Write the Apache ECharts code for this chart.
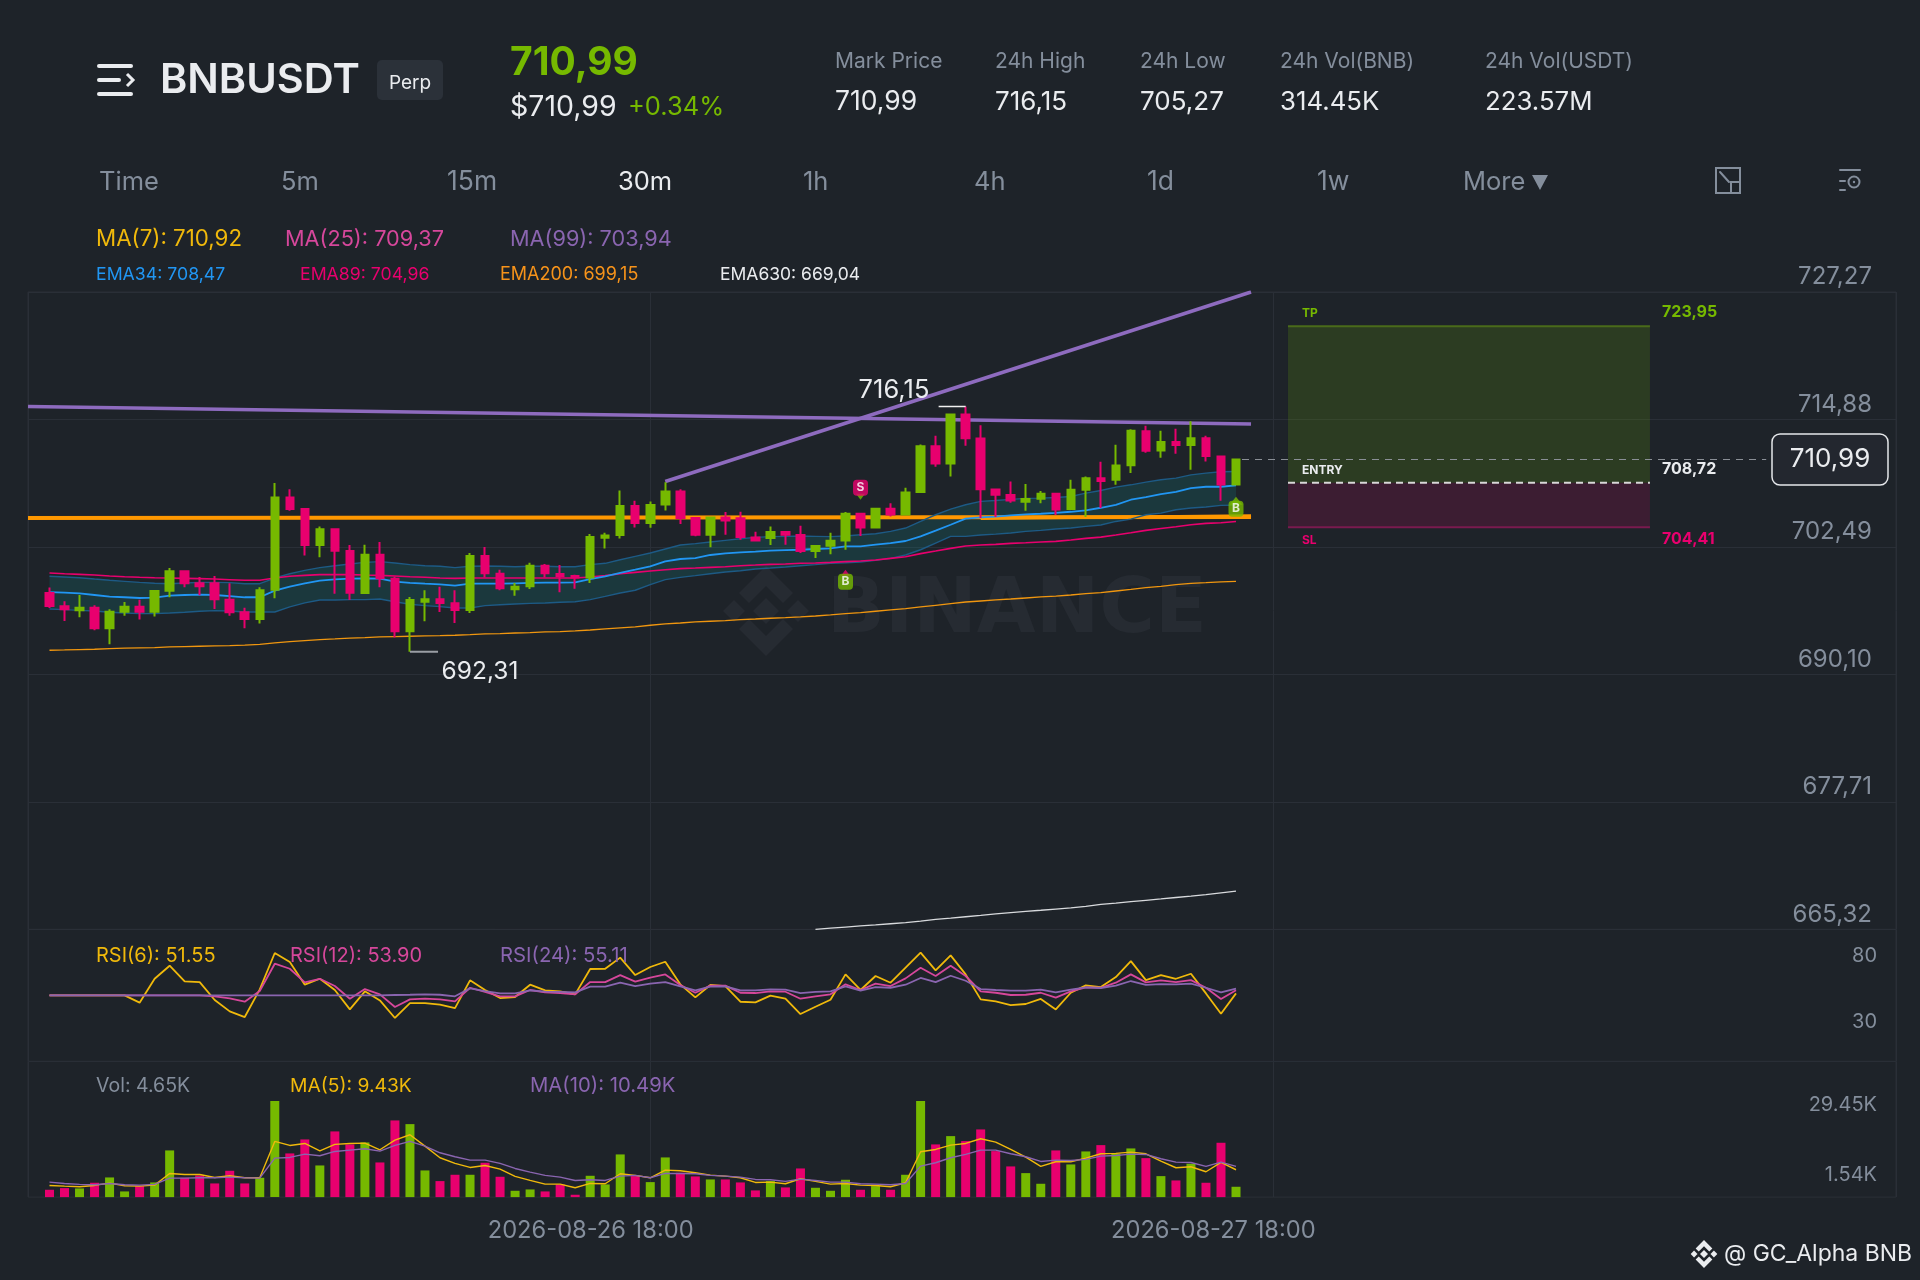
<!DOCTYPE html>
<html><head><meta charset="utf-8">
<style>html,body{margin:0;padding:0;background:#1e2329}#c{width:1920px;height:1280px}</style>
<script src="https://cdn.jsdelivr.net/npm/echarts@6/dist/echarts.min.js"></script>
</head><body><div id="c"></div>
<script>
// [open, close, low, high]
const candles=[[698.02,696.75,696.56,698.54],[696.72,696.43,695.30,697.21],[696.33,696.59,695.65,697.82],[696.59,694.59,694.39,696.82],[694.59,696.20,693.03,696.43],[696.20,696.69,695.81,697.14],[696.69,696.20,695.43,697.37],[696.20,698.21,695.72,698.21],[698.24,700.12,697.60,700.44],[700.12,698.96,698.57,700.12],
[698.96,698.66,697.79,699.57],[698.96,697.40,696.46,699.67],[697.37,696.14,695.81,698.96],[696.14,695.49,694.59,696.59],[695.49,698.28,695.04,698.57],[698.34,707.30,697.50,708.70],[707.30,706.17,706.01,708.11],[706.17,702.68,701.67,706.17],[702.68,704.20,701.48,704.49],[704.20,702.13,697.95,704.20],
[702.09,698.05,697.34,702.68],[698.02,701.74,698.02,702.71],[701.74,699.44,698.57,702.97],[699.41,694.29,693.68,699.63],[694.29,697.34,692.31,697.63],[697.17,697.40,695.27,698.28],[697.40,697.05,696.17,698.63],[697.01,696.37,695.10,698.28],[696.37,701.61,696.07,701.90],[701.61,699.93,699.53,702.48],
[699.89,698.47,698.28,700.28],[698.37,698.63,697.76,698.99],[698.66,700.67,698.40,700.96],[700.67,699.93,699.53,700.83],[699.86,699.64,698.08,700.73],[699.67,699.53,698.44,699.80],[699.53,703.45,698.99,703.74],[703.39,703.61,702.35,703.87],[703.65,706.46,703.32,707.98],[706.46,704.81,704.39,706.98],
[704.81,706.56,704.36,706.92],[706.62,707.89,706.04,708.79],[707.89,705.30,704.72,708.11],[705.30,703.68,703.52,705.30],[703.68,705.36,702.45,705.36],[705.36,705.07,703.68,705.88],[705.27,703.45,703.19,705.91],[703.42,703.13,703.10,703.97],[703.36,703.94,702.68,704.49],[703.94,703.68,702.71,704.00],
[703.65,702.09,701.90,704.55],[702.09,702.58,701.41,702.58],[702.61,703.10,701.77,703.87],[703.13,705.72,702.22,705.88],[705.72,704.39,703.55,705.72],[704.39,706.20,704.39,706.27],[706.20,705.65,705.46,706.75],[705.65,707.79,705.65,708.24],[707.82,712.29,707.82,712.45],[712.29,710.60,710.28,713.29],
[710.60,715.36,709.34,715.36],[715.36,713.06,712.32,716.15],[713.03,708.11,705.30,714.33],[708.08,707.56,705.40,708.08],[707.53,707.01,706.79,708.86],[706.88,707.14,706.01,708.60],[707.17,707.66,706.75,707.92],[707.66,706.14,705.59,707.72],[706.17,708.05,706.11,709.02],[708.05,709.18,705.40,709.34],
[709.18,708.89,706.27,710.77],[709.02,710.41,708.53,712.42],[710.44,713.78,709.67,713.94],[713.74,711.84,711.64,714.26],[711.87,712.68,711.15,713.78],[712.68,712.39,711.54,713.97],[712.39,713.06,709.99,714.71],[713.06,711.32,710.80,713.29],[711.28,708.57,706.98,711.32],[708.57,710.99,708.57,710.99]];
const ema34=[698.11,698.05,697.98,697.82,697.66,697.60,697.53,697.56,697.76,697.82,697.85,697.82,697.72,697.60,697.60,698.24,698.63,698.96,699.21,699.34,699.41,699.44,699.41,699.12,698.99,698.92,698.86,698.73,698.92,698.92,698.92,698.96,698.99,699.02,699.02,699.05,699.37,699.64,699.96,700.28,700.61,701.09,701.32,701.41,701.71,701.87,701.96,702.03,702.13,702.19,702.22,702.29,702.35,702.55,702.55,702.71,702.87,703.07,703.52,704.07,704.65,705.24,705.36,705.43,705.56,705.65,705.72,705.81,705.91,706.04,706.30,706.59,707.08,707.33,707.63,707.85,708.21,708.34,708.34,708.47];
const ema89=[699.96,699.89,699.83,699.76,699.67,699.60,699.54,699.50,699.47,699.44,699.41,699.37,699.31,699.25,699.25,699.47,699.64,699.73,699.80,699.80,699.80,699.76,699.73,699.67,699.60,699.54,699.47,699.44,699.47,699.47,699.47,699.47,699.47,699.47,699.47,699.47,699.57,699.70,699.89,700.02,700.15,700.28,700.38,700.44,700.51,700.57,700.67,700.73,700.80,700.83,700.90,700.93,700.99,701.06,701.12,701.22,701.38,701.54,701.84,702.09,702.35,702.58,702.68,702.74,702.84,702.90,702.97,703.03,703.16,703.32,703.45,703.65,703.87,704.10,704.29,704.46,704.65,704.78,704.84,704.96];
const ema200=[692.45,692.48,692.52,692.55,692.61,692.65,692.68,692.71,692.77,692.81,692.84,692.87,692.90,692.94,693.03,693.16,693.29,693.39,693.49,693.55,693.62,693.68,693.75,693.78,693.81,693.84,693.87,693.91,693.97,694.04,694.07,694.13,694.17,694.23,694.26,694.33,694.42,694.52,694.62,694.72,694.88,695.01,695.10,695.20,695.27,695.33,695.43,695.49,695.56,695.62,695.69,695.78,695.88,696.01,696.11,696.24,696.37,696.50,696.66,696.82,696.98,697.14,697.24,697.34,697.43,697.53,697.63,697.72,697.82,697.95,698.05,698.21,698.37,698.54,698.66,698.83,698.96,699.02,699.09,699.15];
const ema630Start=51;
const ema630=[665.33,665.44,665.55,665.66,665.76,665.87,665.98,666.12,666.30,666.42,666.55,666.68,666.82,666.95,667.07,667.18,667.30,667.42,667.55,667.76,667.88,668.02,668.15,668.28,668.42,668.55,668.70,668.88,669.04];
const bandUpper=[699.64,699.57,699.50,699.37,699.25,699.15,699.05,698.96,698.92,698.99,699.05,699.05,699.02,698.92,698.92,699.47,699.89,700.22,700.48,700.67,700.83,700.99,701.06,700.93,700.77,700.67,700.61,700.48,700.61,700.64,700.61,700.57,700.61,700.61,700.57,700.57,700.77,700.90,701.25,701.58,701.90,702.29,702.68,702.81,702.97,703.13,703.29,703.42,703.49,703.52,703.55,703.52,703.49,703.55,703.68,703.78,704.00,704.33,704.97,705.62,706.17,706.59,706.92,707.01,707.11,707.21,707.24,707.30,707.40,707.72,707.98,708.31,708.53,708.79,709.02,709.18,709.50,709.67,709.80,709.83];
const bandLower=[696.46,696.40,696.33,696.27,696.14,696.07,696.01,696.01,696.07,696.14,696.24,696.30,696.27,696.17,696.17,696.17,696.66,697.05,697.34,697.34,697.37,697.37,697.43,697.17,696.92,696.79,696.69,696.56,696.56,696.79,696.88,696.95,697.01,697.05,697.11,697.17,697.37,697.69,698.02,698.28,698.83,699.31,699.53,699.70,699.89,700.05,700.18,700.35,700.44,700.54,700.67,700.77,700.90,700.96,701.03,701.19,701.38,701.71,702.22,702.87,703.52,703.52,703.65,703.74,703.84,704.00,704.10,704.23,704.33,704.49,704.62,704.97,705.20,705.62,705.78,706.11,706.27,706.37,706.53,706.56];
const rsi6=[50,50,50,50,50,50,44.5,62.6,72.5,60.6,60.1,46.5,37.9,33.6,54.6,82.1,75.3,58.1,62.6,54.1,39.4,53.1,46.2,32.9,44.2,44.2,43.0,40.4,61.4,54.1,48.0,48.8,58.1,53.8,53.1,50.8,70.0,70.2,78.6,65.4,71.5,75.5,58.4,48.5,57.9,57.1,45.2,44.7,49.8,47.5,35.9,41.4,46.7,65.9,54.1,64.7,59.6,71.0,82.4,69.0,80.3,65.9,47.0,45.5,42.7,43.5,47.3,39.4,52.0,57.6,56.3,63.9,76.0,61.6,65.4,62.6,66.4,51.5,36.1,51.55];
const rsi12=[50,50,50,50,50,50,50,50,50,50,50,49.3,47.8,45.2,53.3,74.0,70.2,59.9,62.6,57.1,47.5,54.8,50.8,41.2,47.0,47.5,47.0,45.5,55.8,52.6,49.3,49.3,54.1,52.3,51.8,50.8,60.1,60.1,65.4,60.4,63.4,65.9,57.9,52.0,57.4,57.4,52.0,51.8,53.1,52.8,47.5,49.3,50.8,58.4,54.1,58.9,57.1,62.9,71.0,64.7,72.5,64.7,53.1,52.0,50.3,50.5,52.0,48.3,53.1,56.1,55.8,59.6,65.9,59.9,61.4,60.1,61.6,55.8,47.3,53.9];
const rsi24=[50,50,50,50,50,50,50,50,50,50,50,50,50,50,50,50,50,50,50,50,50,50,50,50.3,50.5,50.8,50.5,49.3,55.3,53.3,51.5,51.5,53.8,52.8,52.6,52.3,56.6,56.6,59.6,57.1,58.9,60.1,56.8,53.8,56.6,56.8,53.8,53.8,54.6,54.3,51.8,52.6,53.1,56.8,53.6,56.3,55.8,58.1,63.2,60.1,64.9,61.1,54.8,54.1,53.6,53.6,54.3,52.3,54.3,56.1,55.6,57.4,60.9,57.9,58.6,58.4,58.9,55.8,52.3,55.11];
const volume=[2.25,2.76,2.66,4.40,6.03,1.74,3.37,4.50,14.32,5.93,6.65,4.19,8.08,4.19,5.93,29.45,13.40,17.69,9.71,20.15,16.16,16.77,10.63,23.52,22.39,8.18,4.91,6.85,6.85,10.53,6.24,1.94,2.35,1.74,3.89,0.72,6.54,3.89,13.09,6.44,4.60,12.17,7.46,6.34,5.42,5.42,4.50,2.05,4.91,2.97,8.79,2.86,1.94,5.32,2.25,3.37,2.25,6.85,29.45,16.16,18.71,17.18,20.76,14.11,9.41,7.36,4.09,14.32,10.02,14.01,15.95,13.29,14.93,11.96,6.44,5.11,10.23,4.40,16.67,3.17];
const volMa5=[3.58,3.37,3.17,3.58,4.29,3.48,3.37,3.68,7.26,6.95,6.95,6.03,6.54,5.93,5.93,17.08,15.85,16.46,14.21,16.16,16.46,16.57,14.52,17.49,19.12,15.65,12.07,10.33,9.10,9.71,8.59,6.34,5.11,3.99,3.99,2.86,4.19,4.09,7.16,6.65,5.93,8.28,8.08,7.46,6.75,6.44,5.93,4.50,4.60,4.09,5.62,4.81,3.99,4.19,3.68,3.58,3.17,4.40,13.91,14.62,15.95,16.46,17.90,16.87,14.62,12.27,9.41,10.84,10.84,11.96,13.29,13.40,13.81,13.29,11.04,9.00,9.31,7.77,10.63,8.39];
const volMa10=[4.60,4.19,3.89,3.78,4.19,3.78,3.68,3.89,5.83,5.83,5.93,5.93,6.14,5.93,5.83,11.96,12.17,13.19,12.68,14.01,14.42,14.83,14.11,15.85,17.08,15.65,13.60,12.37,11.35,11.35,10.33,8.79,7.67,6.65,6.14,5.11,5.32,5.11,6.44,6.65,5.93,7.26,7.26,7.16,6.65,6.44,6.14,5.42,5.32,4.81,5.52,5.11,4.60,4.60,4.09,3.99,3.78,4.19,9.51,10.53,12.07,13.09,14.42,14.42,13.29,12.37,10.94,11.35,11.25,11.56,12.58,12.78,13.19,13.09,11.76,10.74,10.63,9.41,10.74,9.41];
// trend lines: [candle index, price]
const trendFlat=[[-1.43,716.13],[80,714.43]];
const trendRise=[[41,708.85],[80,727.27]];
const supportLine=[[-1.43,705.30],[80,705.40]];
const supportLine2=[[62,705.26],[80,705.52]];
const highMark=[[59.2,716.15],[61,716.15]];
const lowMark=[[24,692.31],[25.87,692.31]];
const lastPrice=710.99, lastFrom=79.4, lastTo=114.3;
const tp=723.95, entry=708.72, sl=704.41, zoneFrom=82.46, zoneTo=106.56;
const dateLabels=['2026-08-26 18:00','2026-08-27 18:00'];
const rsiTicks=[30,80];
const volTicks=[1.54,29.45];
const priceMin=665.32, priceMax=727.27, priceStep=12.39;
const xMin=-1.431, xMax=122.943, xStep=41.458;

const UP='#76b900',DN='#e8006e',GRID='#2a2f37',GREY='#848e9c',WHITE='#eaecef',YEL='#f0b90b',PNK='#d6479b',PUR='#8a65b0';
const FONT='Inter,"DejaVu Sans",sans-serif';
const idx=a=>a.map((v,i)=>[i,v]);
const X=(i,extra)=>Object.assign({type:'value',gridIndex:i,min:xMin,max:xMax,interval:xStep,axisLine:{show:false},axisTick:{show:false},axisLabel:{show:false},splitLine:{show:true,lineStyle:{color:GRID}}},extra||{});
const Y=(i,extra)=>Object.assign({type:'value',gridIndex:i,position:'right',axisLine:{show:false},axisTick:{show:false},splitLine:{show:false}},extra);
const line=(name,data,color,width,x,extra)=>Object.assign({name,type:'line',data,xAxisIndex:x,yAxisIndex:x,showSymbol:false,symbol:'none',smooth:false,silent:true,lineStyle:{color,width},z:3},extra||{});
const grid=(top,height)=>({left:28,top,width:1868,height,show:true,backgroundColor:'transparent',borderColor:GRID,borderWidth:1});

const t=(x,y,text,fill,size,weight,align)=>({type:'text',x,y,z:100,style:{text,fill,font:(weight||400)+' '+size+'px '+FONT,align:align||'left',verticalAlign:'middle'}});
const poly=(cx,cy,s,pts,fill,z)=>({type:'polygon',z:z,shape:{points:pts.map(p=>[cx+p[0]*s,cy+p[1]*s])},style:{fill}});
const logo=(cx,cy,s,fill,z)=>[
 [[0,-45],[27,-18],[17,-8],[0,-25],[-17,-8],[-27,-18]],[[0,45],[27,18],[17,8],[0,25],[-17,8],[-27,18]],
 [[0,-13],[13,0],[0,13],[-13,0]],[[-32,-11],[-21,0],[-32,11],[-43,0]],[[32,-11],[43,0],[32,11],[21,0]]
].map(p=>poly(cx,cy,s,p,fill,z));
const ln=(x1,y1,x2,y2,c,w)=>({type:'line',z:100,shape:{x1,y1,x2,y2},style:{stroke:c,lineWidth:w,lineCap:'round'}});

const graphics=[
 ...logo(766,611,1,'#262b32',1),
 {type:'text',x:827,y:612,z:1,style:{text:'BINANCE',fill:'#262b32',font:'700 76px "DejaVu Sans",'+FONT,align:'left',verticalAlign:'middle'}},
 ln(99,66,131,66,WHITE,4),ln(99,80,119,80,WHITE,4),ln(99,94,131,94,WHITE,4),
 {type:'polyline',z:100,shape:{points:[[127,74],[133,80],[127,86]]},style:{stroke:WHITE,lineWidth:3,fill:'none'}},
 t(160,81,'BNBUSDT',WHITE,41.5,600),
 {type:'rect',z:99,shape:{x:377,y:60,width:66,height:40,r:5},style:{fill:'#2b3139'}},
 t(410,83,'Perp',WHITE,19,400,'center'),
 t(510,63,'710,99',UP,39,700),t(510,107,'$710,99',WHITE,28.5),t(628,107,'+0.34%',UP,25.5),
 t(835,62,'Mark Price',GREY,21),t(835,102,'710,99',WHITE,26.5),
 t(995,62,'24h High',GREY,21),t(995,102,'716,15',WHITE,26),
 t(1140,62,'24h Low',GREY,21),t(1140,102,'705,27',WHITE,26),
 t(1280,62,'24h Vol(BNB)',GREY,21),t(1280,102,'314.45K',WHITE,25.8),
 t(1485,62,'24h Vol(USDT)',GREY,21),t(1485,102,'223.57M',WHITE,25.8),
 t(99,182,'Time',GREY,25.5),t(281,182,'5m',GREY,25.5),t(447,182,'15m',GREY,26.5),t(618,182,'30m',WHITE,25.5),t(803,182,'1h',GREY,25.5),t(974,182,'4h',GREY,25.5),t(1147,182,'1d',GREY,26.5),t(1317,182,'1w',GREY,26.5),t(1463,182,'More',GREY,25.5),
 {type:'polygon',z:100,shape:{points:[[1532,175],[1548,175],[1540,190]]},style:{fill:GREY}},
 {type:'rect',z:100,shape:{x:1716,y:168,width:24,height:25},style:{stroke:GREY,lineWidth:2,fill:'none'}},
 {type:'rect',z:100,shape:{x:1731,y:182,width:9,height:11},style:{stroke:GREY,lineWidth:2,fill:'#1e2329'}},
 ln(1720,172,1729,182,GREY,2),
 ln(1840,170,1860,170,GREY,2),ln(1840,181,1845,181,GREY,2),ln(1840,190,1845,190,GREY,2),
 {type:'circle',z:100,shape:{cx:1854,cy:182,r:5.5},style:{stroke:GREY,lineWidth:2,fill:'none'}},
 {type:'circle',z:100,shape:{cx:1854,cy:182,r:1.2},style:{fill:GREY}},
 t(96,239,'MA(7): 710,92',YEL,22.3),t(285,239,'MA(25): 709,37',PNK,21.7),t(510,239,'MA(99): 703,94',PUR,21.7),
 t(96,275,'EMA34: 708,47','#2196f3',17.7),t(300,275,'EMA89: 704,96',DN,17.7),t(500,275,'EMA200: 699,15','#f7931a',18),t(720,275,'EMA630: 669,04',WHITE,17.5),
 t(96,956,'RSI(6): 51.55',YEL,20),t(290,956,'RSI(12): 53.90',PNK,20),t(500,956,'RSI(24): 55.11',PUR,20.3),
 t(96,1086,'Vol: 4.65K',GREY,19.5),t(290,1086,'MA(5): 9.43K',YEL,19.3),t(530,1086,'MA(10): 10.49K',PUR,20.3),
 t(894,390,'716,15',WHITE,25.5,400,'center'),t(480,672,'692,31',WHITE,24.5,400,'center'),
 t(1302,313,'TP',UP,12,700),t(1302,470,'ENTRY',WHITE,12,700),t(1302,540,'SL',DN,12,700),
 t(1662,312,'723,95',UP,16,700),t(1662,469,'708,72',WHITE,16,700),t(1662,539,'704,41',DN,16,700),
 {type:'rect',z:99,shape:{x:1772,y:434,width:116,height:51,r:8},style:{fill:'#23272f',stroke:'#e5e7ea',lineWidth:1.5}},
 t(1830,459,'710,99',WHITE,26,400,'center'),
 ...logo(1704,1254,0.31,WHITE,100),
 t(1724,1254,'@ GC_Alpha BNB',WHITE,23)
];

const option={
 backgroundColor:'#1e2329',animation:false,
 graphic:{elements:graphics},
 grid:[grid(292,637.4),grid(929.4,132),grid(1061.4,135.7)],
 xAxis:[X(0),X(1),X(2,{axisLabel:{show:true,color:GREY,fontSize:23.7,fontFamily:FONT,margin:22,padding:[0,120,0,0],showMinLabel:false,showMaxLabel:false,formatter:v=>dateLabels[Math.round((v-xMin)/xStep)-1]||''}})],
 yAxis:[
  Y(0,{min:priceMin,max:priceMax,interval:priceStep,splitLine:{show:true,lineStyle:{color:GRID}},axisLabel:{inside:true,margin:24,color:GREY,fontSize:24,fontFamily:FONT,verticalAlign:'bottom',padding:[0,0,3,0],formatter:v=>v.toFixed(2).replace('.',',')}}),
  Y(1,{min:0,max:100,axisLabel:{inside:true,margin:19,color:GREY,fontSize:20,fontFamily:FONT,customValues:rsiTicks,padding:[3,0,0,0]}}),
  Y(2,{min:0,max:41.63,axisLabel:{inside:true,margin:19,color:GREY,fontSize:20,fontFamily:FONT,customValues:volTicks,formatter:v=>v<5?'{b|'+v.toFixed(2)+'K}':'{a|'+v.toFixed(2)+'K}',rich:{a:{color:GREY,fontSize:20,fontFamily:FONT,padding:[7,0,0,0]},b:{color:GREY,fontSize:20,fontFamily:FONT,padding:[0,0,35,0]}}}})
 ],
 series:[
  line('Resistance',trendFlat,'#8e6bbf',3.5,0),
  line('Rising trend',trendRise,'#8e6bbf',3.5,0),
  line('Support',supportLine,'#ff9800',4,0),
  line('Support 2',supportLine2,'#ff9800',3,0),
  {name:'Band',type:'custom',xAxisIndex:0,yAxisIndex:0,z:3,silent:true,encode:{x:0,y:1},data:[[0,bandUpper[0]]],
   renderItem:(params,api)=>({type:'polygon',shape:{points:[...bandUpper.map((v,i)=>api.coord([i,v])),...bandLower.map((v,i)=>api.coord([i,v])).reverse()]},style:{fill:'rgba(10,170,165,0.16)',stroke:null}})},
  line('Band upper',idx(bandUpper),'#1d5a85',1.4,0),
  line('Band lower',idx(bandLower),'#1d5a85',1.4,0),
  line('EMA630',ema630.map((v,i)=>[ema630Start+i,v]),'#d8dadd',1.3,0),
  line('EMA200',idx(ema200),'#f0960f',1.3,0),
  line('EMA89',idx(ema89),DN,1.6,0),
  line('EMA34',idx(ema34),'#2196f3',1.8,0),
  {name:'BNBUSDT',type:'candlestick',xAxisIndex:0,yAxisIndex:0,z:6,silent:true,barWidth:8,encode:{x:0,y:[1,2,3,4]},data:candles.map((c,i)=>[i,...c]),itemStyle:{color:UP,color0:DN,borderColor:UP,borderColor0:DN,borderWidth:2}},
  line('High mark',highMark,'#f0f0f0',1.5,0,{z:7}),
  line('Low mark',lowMark,'#9a9ea4',2,0,{z:7}),
  line('Last price',[[lastFrom,lastPrice],[lastTo,lastPrice]],'#8a8f96',1,0,{z:8,lineStyle:{color:'#8a8f96',width:1.2,type:[7,6]}}),
  line('TP',[[zoneFrom,tp],[zoneTo,tp]],'#4a6b1a',2,0,{z:4,markArea:{silent:true,data:[
    [{coord:[zoneFrom,tp],itemStyle:{color:'rgba(118,185,0,0.17)'}},{coord:[zoneTo,entry]}],
    [{coord:[zoneFrom,entry],itemStyle:{color:'rgba(232,0,110,0.15)'}},{coord:[zoneTo,sl]}]]}}),
  line('SL',[[zoneFrom,sl],[zoneTo,sl]],'#7a1a4f',2,0,{z:4}),
  line('Entry',[[zoneFrom,entry],[zoneTo,entry]],'#d8d8d8',2,0,{z:5,lineStyle:{color:'#d8d8d8',width:2,type:[7,5]}}),
  {name:'Arrows',type:'scatter',xAxisIndex:0,yAxisIndex:0,z:9,silent:true,data:[
    {value:[54,707.37],symbol:'triangle',symbolRotate:180,symbolSize:[9,6],itemStyle:{color:UP}},
    {value:[53,699.99],symbol:'triangle',symbolSize:[9,6],itemStyle:{color:DN}},
    {value:[79,706.98],symbol:'triangle',symbolSize:[13,8],itemStyle:{color:UP}}]},
  {name:'Signals',type:'scatter',xAxisIndex:0,yAxisIndex:0,z:10,silent:true,symbol:'roundRect',symbolSize:[15,16],
    label:{show:true,position:'inside',formatter:p=>p.data.tag,color:'#fff',fontSize:12,fontWeight:700,fontFamily:FONT},
    data:[{value:[54,708.24],tag:'S',itemStyle:{color:DN}},{value:[53,699.11],tag:'B',itemStyle:{color:UP}},{value:[79,706.2],tag:'B',itemStyle:{color:UP}}]},
  line('RSI(6)',idx(rsi6),YEL,1.8,1),
  line('RSI(12)',idx(rsi12),PNK,1.8,1),
  line('RSI(24)',idx(rsi24),PUR,1.8,1),
  {name:'Vol',type:'bar',xAxisIndex:2,yAxisIndex:2,barWidth:9,silent:true,z:2,data:volume.map((v,i)=>({value:[i,v],itemStyle:{color:candles[i][1]>=candles[i][0]?UP:DN}}))},
  line('Vol MA5',idx(volMa5),YEL,1.4,2),
  line('Vol MA10',idx(volMa10),PUR,1.4,2)
 ]
};
const chart=echarts.init(document.getElementById('c'),null,{width:1920,height:1280});
chart.setOption(option);
</script></body></html>
